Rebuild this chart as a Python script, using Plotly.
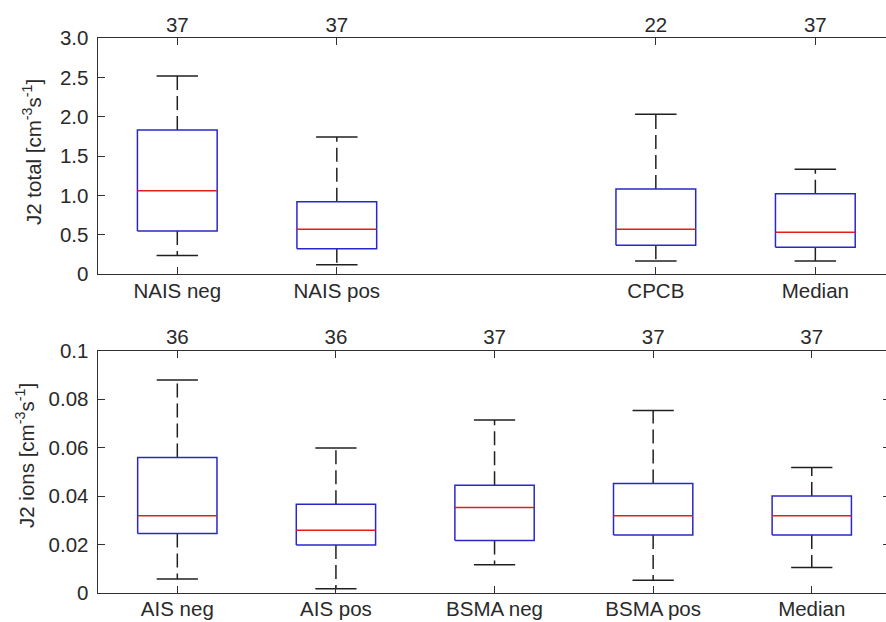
import plotly.graph_objects as go

# ---------------- data ----------------
top_labels = ["NAIS neg", "NAIS pos", "", "CPCB", "Median"]
top_counts = [37, 37, None, 22, 37]
top_lower = [0.24, 0.12, None, 0.17, 0.17]
top_q1 = [0.55, 0.325, None, 0.37, 0.343]
top_median = [1.063, 0.572, None, 0.572, 0.534]
top_q3 = [1.834, 0.923, None, 1.084, 1.025]
top_upper = [2.52, 1.745, None, 2.034, 1.335]

bot_labels = ["AIS neg", "AIS pos", "BSMA neg", "BSMA pos", "Median"]
bot_counts = [36, 36, 37, 37, 37]
bot_lower = [0.0059, 0.0019, 0.0118, 0.0054, 0.0106]
bot_q1 = [0.0247, 0.0199, 0.0218, 0.0240, 0.0240]
bot_median = [0.0320, 0.0260, 0.0354, 0.0320, 0.0320]
bot_q3 = [0.0560, 0.0367, 0.0445, 0.0453, 0.0401]
bot_upper = [0.0879, 0.0599, 0.0714, 0.0754, 0.0519]

top_yticks = [0, 0.5, 1.0, 1.5, 2.0, 2.5, 3.0]
top_yticktext = ["0", "0.5", "1.0", "1.5", "2.0", "2.5", "3.0"]
bot_yticks = [0, 0.02, 0.04, 0.06, 0.08, 0.1]
bot_yticktext = ["0", "0.02", "0.04", "0.06", "0.08", "0.1"]

# ---------------- style ----------------
FONT = "Liberation Sans, Arial, Helvetica, sans-serif"
FS = 20.5
TXT = "#2a2a2a"
AX = "#303030"
BLUE = "rgb(40,40,200)"
RED = "rgb(225,30,30)"
WHISK = "#202020"
BOX_HALF = 0.25
CAP_HALF = 0.13

fig = go.Figure()


def add_boxes(lower, q1, med, q3, upper, xa, ya):
    bx, by, mx, my, wx, wy, cx, cy = [], [], [], [], [], [], [], []
    for i in range(len(med)):
        if med[i] is None:
            continue
        p = i + 1
        bx += [p - BOX_HALF, p + BOX_HALF, p + BOX_HALF, p - BOX_HALF, p - BOX_HALF, None]
        by += [q1[i], q1[i], q3[i], q3[i], q1[i], None]
        mx += [p - BOX_HALF, p + BOX_HALF, None]
        my += [med[i], med[i], None]
        wx += [p, p, None, p, p, None]
        wy += [q3[i], upper[i], None, q1[i], lower[i], None]
        cx += [p - CAP_HALF, p + CAP_HALF, None, p - CAP_HALF, p + CAP_HALF, None]
        cy += [upper[i], upper[i], None, lower[i], lower[i], None]
    fig.add_trace(go.Scatter(x=wx, y=wy, mode="lines", xaxis=xa, yaxis=ya,
                             line=dict(color=WHISK, width=1.5, dash="14px,6px"),
                             hoverinfo="skip", showlegend=False))
    fig.add_trace(go.Scatter(x=cx, y=cy, mode="lines", xaxis=xa, yaxis=ya,
                             line=dict(color=WHISK, width=1.5),
                             hoverinfo="skip", showlegend=False))
    fig.add_trace(go.Scatter(x=bx, y=by, mode="lines", xaxis=xa, yaxis=ya,
                             line=dict(color=BLUE, width=1.5),
                             hoverinfo="skip", showlegend=False))
    fig.add_trace(go.Scatter(x=mx, y=my, mode="lines", xaxis=xa, yaxis=ya,
                             line=dict(color=RED, width=1.5),
                             hoverinfo="skip", showlegend=False))


add_boxes(top_lower, top_q1, top_median, top_q3, top_upper, "x", "y")
add_boxes(bot_lower, bot_q1, bot_median, bot_q3, bot_upper, "x3", "y2")

# invisible traces so the overlay axes are rendered
for xa, ya in [("x2", "y"), ("x4", "y2"), ("x3", "y3")]:
    fig.add_trace(go.Scatter(x=[None], y=[None], xaxis=xa, yaxis=ya,
                             showlegend=False, hoverinfo="skip"))

top_tv = [i + 1 for i, l in enumerate(top_labels) if l]
top_tt = [l for l in top_labels if l]
top_ct = [str(c) for c in top_counts if c is not None]
bot_tv = [i + 1 for i in range(len(bot_labels))]
bot_ct = [str(c) for c in bot_counts]

XD = [97.7 / 886, 1.0]
TOP_RANGE = [0.501, 5.443]
BOT_RANGE = [0.498, 5.468]
TOP_YD = [1 - 274.3 / 622, 1 - 38.3 / 622]
BOT_YD = [1 - 593.3 / 622, 1 - 350.7 / 622]

axcommon = dict(showgrid=False, zeroline=False, showline=True, linecolor=AX,
                linewidth=1.3, ticks="inside", ticklen=7, tickcolor=AX,
                tickwidth=1.2, tickfont=dict(family=FONT, size=FS, color=TXT),
                fixedrange=True, automargin=False)

fig.update_layout(
    width=886, height=622,
    margin=dict(l=0, r=0, t=0, b=0, autoexpand=False),
    paper_bgcolor="white", plot_bgcolor="white",
    showlegend=False,
    xaxis=dict(domain=XD, anchor="y", range=TOP_RANGE, tickmode="array",
               tickvals=top_tv, ticktext=top_tt, ticklabelstandoff=-2, **axcommon),
    xaxis2=dict(overlaying="x", side="top", anchor="y", range=TOP_RANGE,
                tickmode="array", tickvals=top_tv, ticktext=top_ct,
                ticklabelstandoff=-3, **axcommon),
    yaxis=dict(domain=TOP_YD, anchor="x", range=[0, 3], tickmode="array",
               tickvals=top_yticks, ticktext=top_yticktext,
               ticklabelstandoff=4, **axcommon),
    xaxis3=dict(domain=XD, anchor="y2", range=BOT_RANGE, tickmode="array",
                tickvals=bot_tv, ticktext=bot_labels, ticklabelstandoff=-3,
                **axcommon),
    xaxis4=dict(overlaying="x3", side="top", anchor="y2", range=BOT_RANGE,
                tickmode="array", tickvals=bot_tv, ticktext=bot_ct,
                ticklabelstandoff=-3, **axcommon),
    yaxis2=dict(domain=BOT_YD, anchor="x3", range=[0, 0.1], tickmode="array",
                tickvals=bot_yticks, ticktext=bot_yticktext,
                ticklabelstandoff=4, **axcommon),
    yaxis3=dict(overlaying="y2", side="right", anchor="free", position=1.0,
                range=[0, 0.1], tickmode="array", tickvals=bot_yticks,
                showticklabels=False, showgrid=False, zeroline=False,
                showline=False, ticks="inside", ticklen=3, tickcolor=AX,
                tickwidth=1.2, fixedrange=True, automargin=False),
)

# y-axis titles
fig.add_annotation(text="J2 total [cm<sup>-3</sup>s<sup>-1</sup>]",
                   xref="paper", yref="paper", x=32 / 886, y=1 - 152 / 622,
                   xanchor="center", yanchor="middle",
                   textangle=-90, showarrow=False,
                   font=dict(family=FONT, size=FS, color=TXT))
fig.add_annotation(text="J2 ions [cm<sup>-3</sup>s<sup>-1</sup>]",
                   xref="paper", yref="paper", x=25 / 886, y=1 - 456 / 622,
                   xanchor="center", yanchor="middle",
                   textangle=-90, showarrow=False,
                   font=dict(family=FONT, size=FS, color=TXT))

fig.write_html("out.html")
